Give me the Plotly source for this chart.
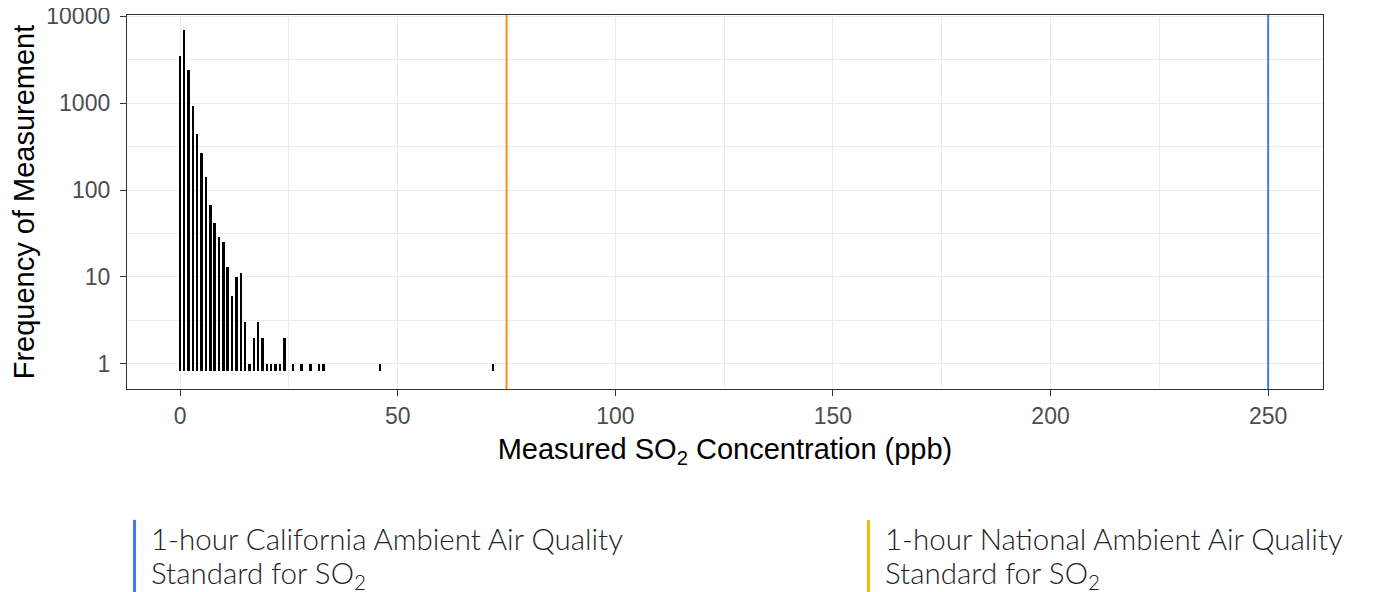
import numpy as np
import plotly.graph_objects as go

# SO2 hourly concentration (ppb) and how often each value was measured
concentration = [0, 1, 2, 3, 4, 5, 6, 7, 8, 9, 10, 11, 12, 13, 14, 15, 16, 17, 18, 19,
                 20, 21, 22, 23, 24, 26, 28, 30, 32, 33, 46, 72]
frequency = [3500, 7000, 2400, 925, 436, 269, 142, 67, 42, 29, 25, 13, 6, 10, 11, 3, 1, 2, 3, 2,
             1, 1, 1, 1, 2, 1, 1, 1, 1, 1, 1, 1]

# regulatory standards (ppb), key text split in two lines
standard_lines = [["1-hour California Ambient Air Quality", "Standard for SO<sub>2</sub>"],
                  ["1-hour National Ambient Air Quality", "Standard for SO<sub>2</sub>"]]
standard_values = [250, 75]
line_colors = ["#3B7DF0", "#FF8C1A"]
key_colors = ["#3B7DF0", "#F7B900"]

x_ticks = [0, 50, 100, 150, 200, 250]
y_ticks = [1, 10, 100, 1000, 10000]

bar_floor = 0.83
tick_font = dict(family="Liberation Sans, Arial", size=23, color="#4D4D4D")
title_font = dict(family="Liberation Sans, Arial", size=29, color="black")
key_font = dict(family="Lato, Noto Sans", size=29.5, color="#222222", weight=300)

fig = go.Figure()
fig.add_trace(
    go.Bar(
        x=concentration,
        y=[f - bar_floor for f in frequency],
        base=bar_floor,
        width=0.45,
        marker=dict(color="black", line=dict(width=0)),
        showlegend=False,
    )
)

for value, color in zip(standard_values, line_colors):
    fig.add_shape(type="line", xref="x", yref="paper", x0=value, x1=value, y0=0, y1=1,
                  line=dict(color=color, width=2))

# custom key underneath the plot
key_x = [0.0063, 0.620]
for x0, lines, color in zip(key_x, standard_lines, key_colors):
    fig.add_shape(type="line", xref="paper", yref="paper", x0=x0, x1=x0, y0=-0.350, y1=-0.56,
                  line=dict(color=color, width=3))
    for text, y in zip(lines, [-0.399, -0.495]):
        fig.add_annotation(text=text, xref="paper", yref="paper", x=x0 + 0.012, y=y,
                           xanchor="left", yanchor="middle", align="left", showarrow=False,
                           font=key_font)

fig.update_layout(
    width=1370,
    height=584,
    plot_bgcolor="white",
    paper_bgcolor="white",
    margin=dict(l=119, r=55, t=7, b=203, pad=0, autoexpand=False),
    bargap=0,
    xaxis=dict(
        range=[-12.2, 262.6],
        tickvals=x_ticks,
        ticks="outside",
        ticklen=6,
        tickwidth=1.2,
        tickcolor="#333333",
        tickfont=tick_font,
        showgrid=True,
        gridcolor="#EBEBEB",
        gridwidth=1.3,
        minor=dict(tickvals=[25, 75, 125, 175, 225], showgrid=True, gridcolor="#EBEBEB", gridwidth=0.7),
        zeroline=False,
        showline=True,
        linecolor="#333333",
        linewidth=1.3,
        mirror=True,
        automargin=False,
        title=dict(text="Measured SO<sub>2</sub> Concentration (ppb)", font=title_font, standoff=10),
    ),
    yaxis=dict(
        type="log",
        range=[-0.288, 4.012],
        tickvals=y_ticks,
        ticktext=[str(v) for v in y_ticks],
        ticks="outside",
        ticklen=6,
        tickwidth=1.2,
        tickcolor="#333333",
        tickfont=tick_font,
        ticklabelstandoff=5,
        ticklabeloverflow="allow",
        showgrid=True,
        gridcolor="#EBEBEB",
        gridwidth=1.3,
        minor=dict(tickvals=list(10 ** np.array([0.5, 1.5, 2.5, 3.5])), showgrid=True,
                   gridcolor="#EBEBEB", gridwidth=0.7),
        zeroline=False,
        showline=True,
        linecolor="#333333",
        linewidth=1.3,
        mirror=True,
        automargin=False,
        title=dict(text="Frequency of Measurement", font=title_font, standoff=14),
    ),
)

fig.write_html("out.html")
